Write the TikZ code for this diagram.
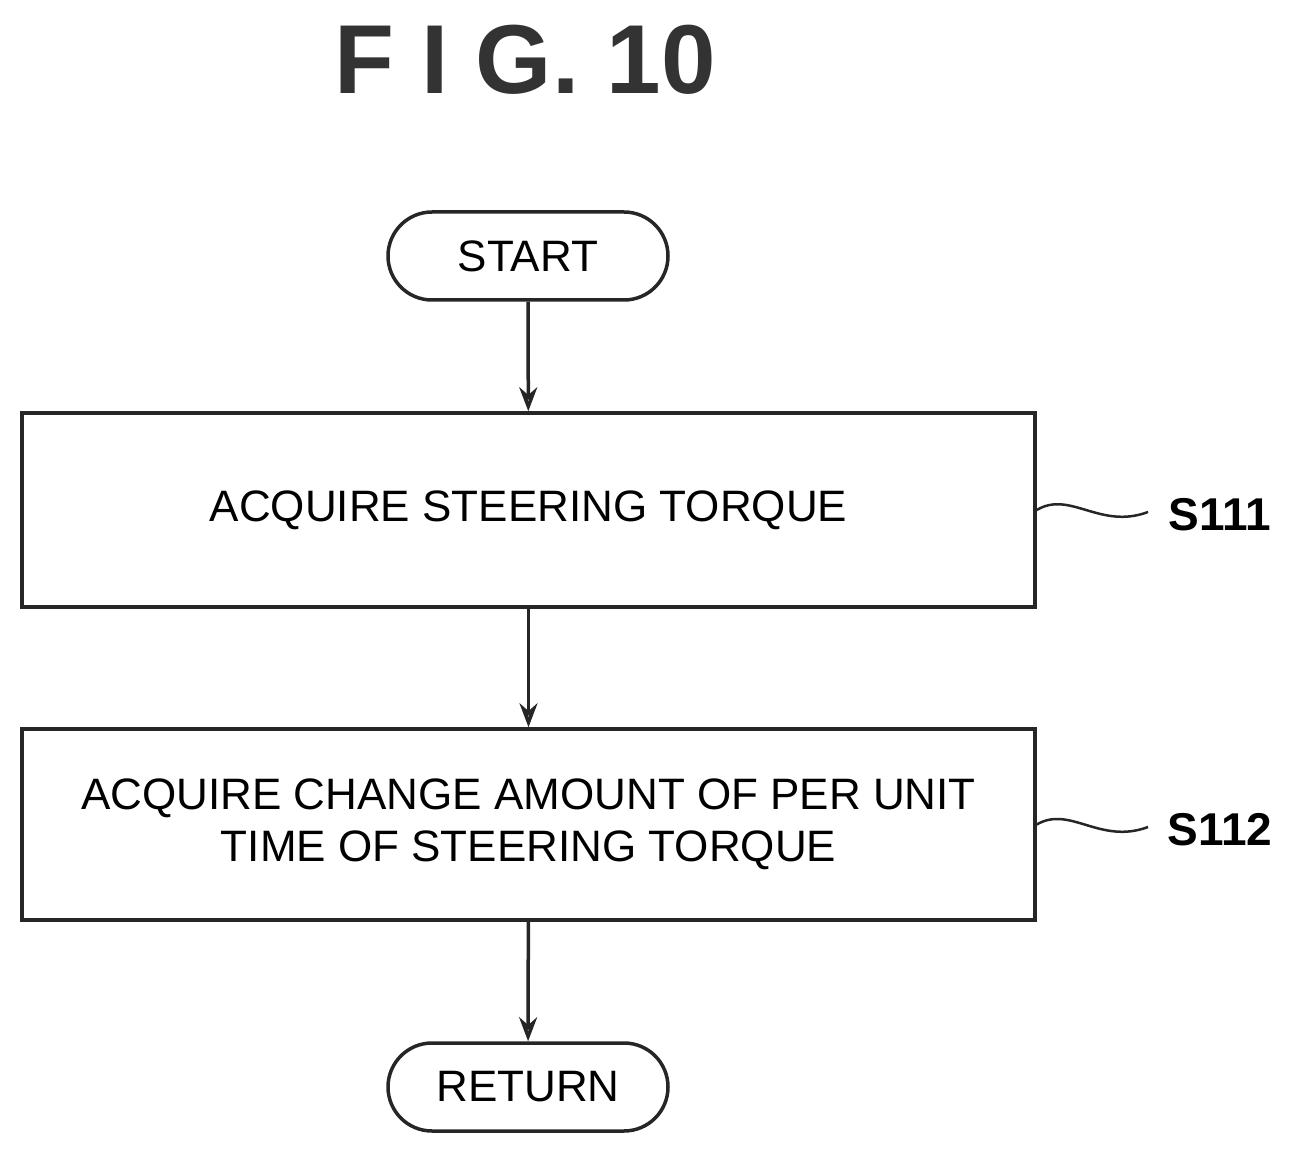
\documentclass[tikz,border=0pt]{standalone}
\usepackage{fontspec}
\setmainfont{Liberation Sans}
\usetikzlibrary{arrows.meta}
\begin{document}
\begin{tikzpicture}[x=1pt,y=-1pt,
  ln/.style={line width=3.5pt,draw=black!85},
  term/.style={ln,rounded corners=44pt,minimum width=280pt,minimum height=88pt,font=\fontsize{44}{52}\selectfont},
  box/.style={ln,minimum width=1013pt,font=\fontsize{44}{52}\selectfont,align=center},
  arr/.style={ln,-{Stealth[open,length=24pt,width=18pt]}},
  lab/.style={font=\bfseries\fontsize{46}{52}\selectfont}]
\useasboundingbox (0,0) rectangle (1301,1155);
\node[font=\bfseries\fontsize{98}{100}\selectfont,text=black!80] (t) at (525,60) {F I G. 10};
\node[term] (s) at (528,256) {START};
\node[box,minimum height=194pt] (b1) at (528.5,510) {ACQUIRE STEERING TORQUE};
\node[box,minimum height=191pt] (b2) at (528.5,824.5) {ACQUIRE CHANGE AMOUNT OF PER UNIT\\TIME OF STEERING TORQUE};
\node[term] (r) at (528,1087) {RETURN};
\draw[arr] (s) -- (b1);
\draw[arr] (b1) -- (b2);
\draw[arr] (b2) -- (r);
\node[lab] (l1) at (1220,515) {S111};
\node[lab] (l2) at (1220,830) {S112};
\draw[ln,line width=2.5pt] (b1.east) .. controls (1070,490) and (1100,530) .. (1148,512);
\draw[ln,line width=2.5pt] (b2.east) .. controls (1070,805) and (1100,845) .. (1148,827);
\end{tikzpicture}
\end{document}
